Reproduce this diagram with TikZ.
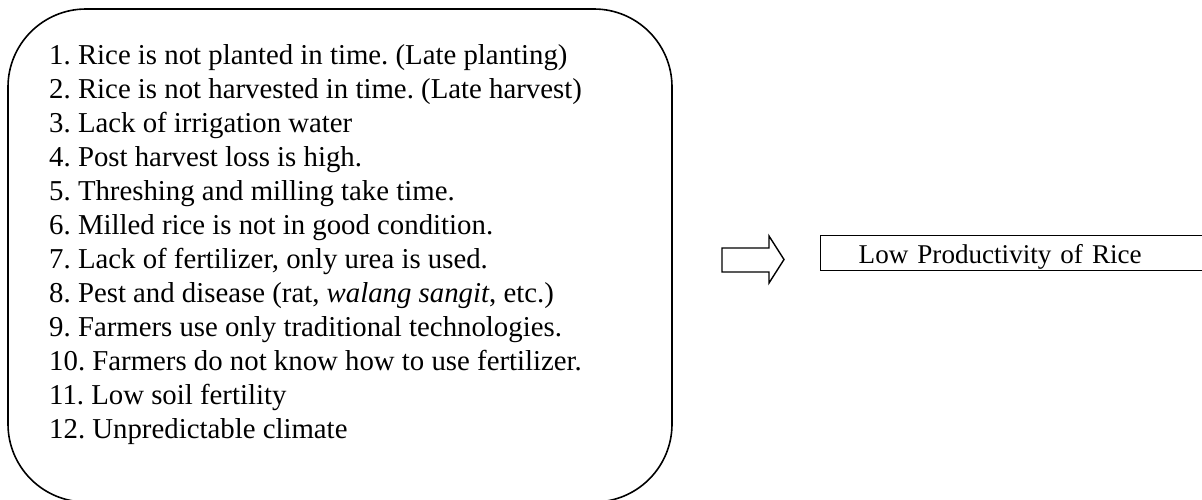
\documentclass[tikz,border=0pt]{standalone}
\usepackage{fontspec}
\setmainfont{Liberation Serif}
\frenchspacing
\begin{document}
\begin{tikzpicture}[x=1pt,y=-1pt,
  every node/.style={font=\fontsize{28.8}{34}\selectfont},
  cause/.style={anchor=base west,inner sep=0pt},
  outline/.style={line width=1.6pt},
]
\useasboundingbox (0,0) rectangle (1202,499);
\clip (0,0) rectangle (1202,499);

% list of causes in a large rounded frame
\draw[outline,rounded corners=78pt] (8,9) rectangle (672,502);
\node[cause] (c1)  at (49,64)  {1. Rice is not planted in time. (Late planting)};
\node[cause] (c2)  at (49,98)  {2. Rice is not harvested in time. (Late harvest)};
\node[cause] (c3)  at (49,132) {3. Lack of irrigation water};
\node[cause] (c4)  at (49,166) {4. Post harvest loss is high.};
\node[cause] (c5)  at (49,200) {5. Threshing and milling take time.};
\node[cause] (c6)  at (49,234) {6. Milled rice is not in good condition.};
\node[cause] (c7)  at (49,268) {7. Lack of fertilizer, only urea is used.};
\node[cause] (c8)  at (49,302) {8. Pest and disease (rat, \textit{walang sangit}, etc.)};
\node[cause] (c9)  at (49,336) {9. Farmers use only traditional technologies.};
\node[cause] (c10) at (49,370) {10. Farmers do not know how to use fertilizer.};
\node[cause] (c11) at (49,404) {11. Low soil fertility};
\node[cause] (c12) at (49,438) {12. Unpredictable climate};

% hollow block arrow
\draw[line width=1.4pt,line join=miter]
  (722,248) -- (769,248) -- (769,236) -- (784,259.5) -- (769,283)
  -- (769,272) -- (722,272) -- cycle;

% outcome box, running off the right edge
\node[draw,line width=1.4pt,anchor=north west,inner ysep=0pt,inner xsep=38pt,
      text width=352pt,align=left,text height=28pt,text depth=7pt,
      font=\fontsize{27.1}{33}\selectfont]
      (result) at (820,235) {Low Productivity of Rice};
\end{tikzpicture}
\end{document}
